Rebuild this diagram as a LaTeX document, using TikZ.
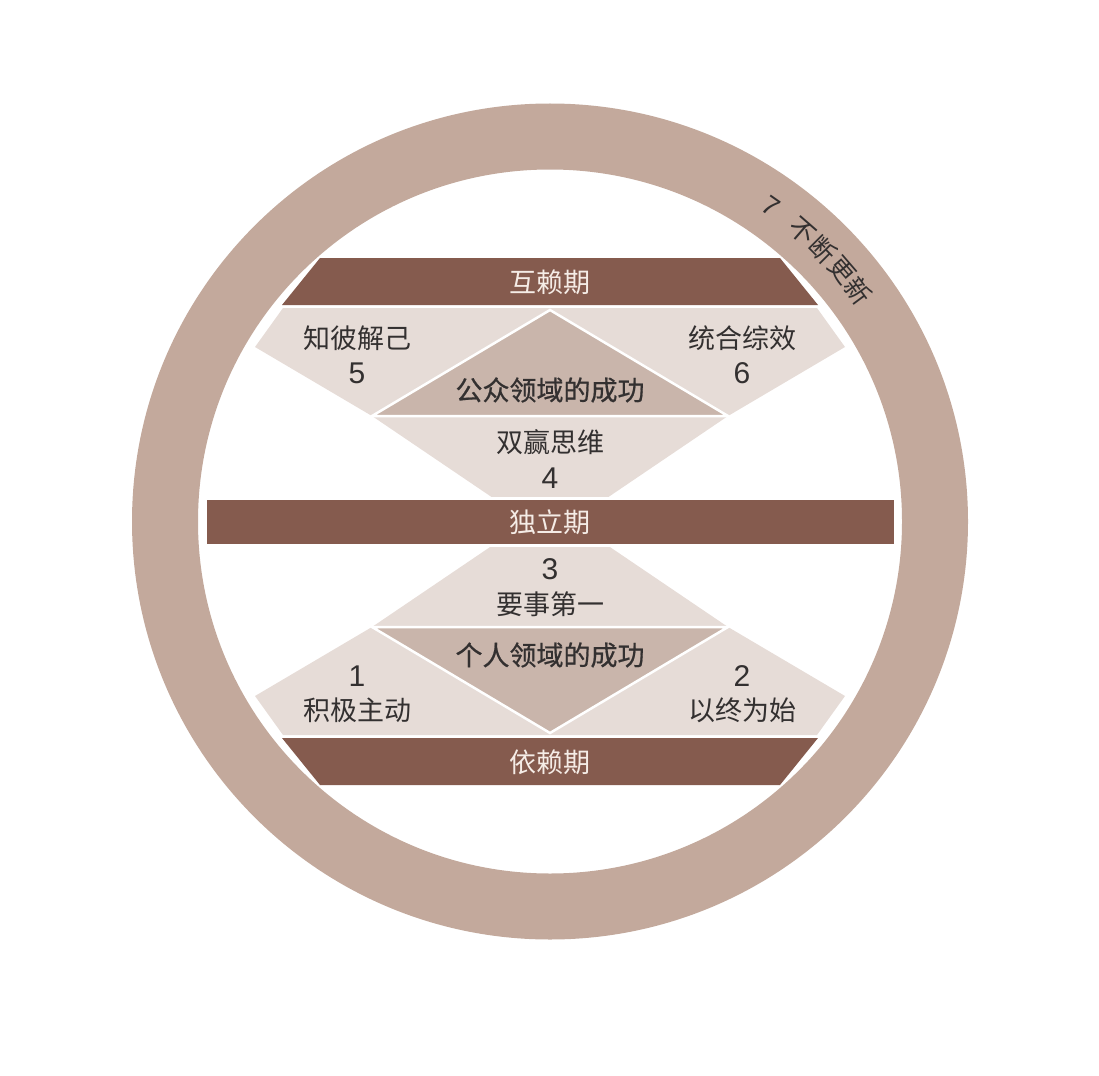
\documentclass[tikz,border=0pt]{standalone}
\usepackage{fontspec}
\setmainfont{Noto Sans CJK SC}
\newfontfamily\cjkmed[FakeBold=0.7]{Noto Sans CJK SC}
\newfontfamily\digitfont{Liberation Sans}
\definecolor{ringc}{HTML}{C3A99C}
\definecolor{barc}{HTML}{855B4E}
\definecolor{lightc}{HTML}{E6DCD7}
\definecolor{midc}{HTML}{C9B5AB}
\definecolor{txtc}{HTML}{333030}
\definecolor{bartxt}{HTML}{F5ECE6}
\tikzset{
  lbl/.style={font=\fontsize{27}{32}\selectfont, text=txtc, inner sep=0pt},
  numlbl/.style={font=\digitfont\fontsize{30}{34}\selectfont, text=txtc, inner sep=0pt},
  arclbl/.style={font=\fontsize{26}{30}\selectfont, text=txtc, inner sep=0pt},
  barlbl/.style={lbl, text=bartxt},
  midlbl/.style={inner sep=0pt, text=txtc, font=\cjkmed\fontsize{27}{32}\selectfont},
  seam/.style={draw=white, line width=2.5pt, line join=miter},
}
\begin{document}
\begin{tikzpicture}[x=1pt,y=-1pt]
\useasboundingbox (0,0) rectangle (1099,1075);
% ring
\fill[ringc, even odd rule] (550,521.5) circle[radius=418pt] (550,521.5) circle[radius=352pt];
% upper light region and middle triangle
\fill[lightc] (283,308) -- (817,308) -- (845,347) -- (728,416) -- (604,500) -- (496,500) -- (372,416) -- (255,347) -- cycle;
\filldraw[fill=midc, seam] (550,310) -- (728,416) -- (372,416) -- cycle;
% lower light region and middle triangle
\fill[lightc] (283,735) -- (817,735) -- (845,696) -- (728,627) -- (604,543) -- (496,543) -- (372,627) -- (255,696) -- cycle;
\filldraw[fill=midc, seam] (550,733) -- (728,627) -- (372,627) -- cycle;
% bars
\fill[barc] (320,258) -- (780,258) -- (818,305) -- (282,305) -- cycle;
\filldraw[fill=barc, draw=white, line width=3pt] (205,498) rectangle (895,545);
\fill[barc] (282,738) -- (818,738) -- (780,785) -- (320,785) -- cycle;
% labels
\node[barlbl] (hulai) at (550,282) {互赖期};
\node[barlbl] (duli) at (550,522) {独立期};
\node[barlbl] (yilai) at (550,762) {依赖期};
\node[lbl] (t5) at (357,338) {知彼解己};
\node[numlbl] (n5) at (357,373) {5};
\node[lbl] (t6) at (742,338) {统合综效};
\node[numlbl] (n6) at (742,373) {6};
\node[midlbl] (gongzhong) at (550,390) {公众领域的成功};
\node[lbl] (t4) at (550,442) {双赢思维};
\node[numlbl] (n4) at (550,478) {4};
\node[numlbl] (n3) at (550,569) {3};
\node[lbl] (t3) at (550,604) {要事第一};
\node[midlbl] (geren) at (550,655) {个人领域的成功};
\node[numlbl] (n1) at (357,676) {1};
\node[lbl] (t1) at (357,710) {积极主动};
\node[numlbl] (n2) at (742,676) {2};
\node[lbl] (t2) at (742,710) {以终为始};
% ring text placed along the arc
\begin{scope}[shift={(550,521.5)}]
\node[arclbl, font=\digitfont\fontsize{27}{30}\selectfont, rotate=-35] (r7) at ({385*cos(55)},{-385*sin(55)}) {7};
\foreach \ch/\ang/\nm in {不/49/ra, 断/44.9/rb, 更/40.8/rc, 新/36.7/rd}
  \node[arclbl, rotate=\ang-90] (\nm) at ({385*cos(\ang)},{-385*sin(\ang)}) {\ch};
\end{scope}
\end{tikzpicture}
\end{document}
